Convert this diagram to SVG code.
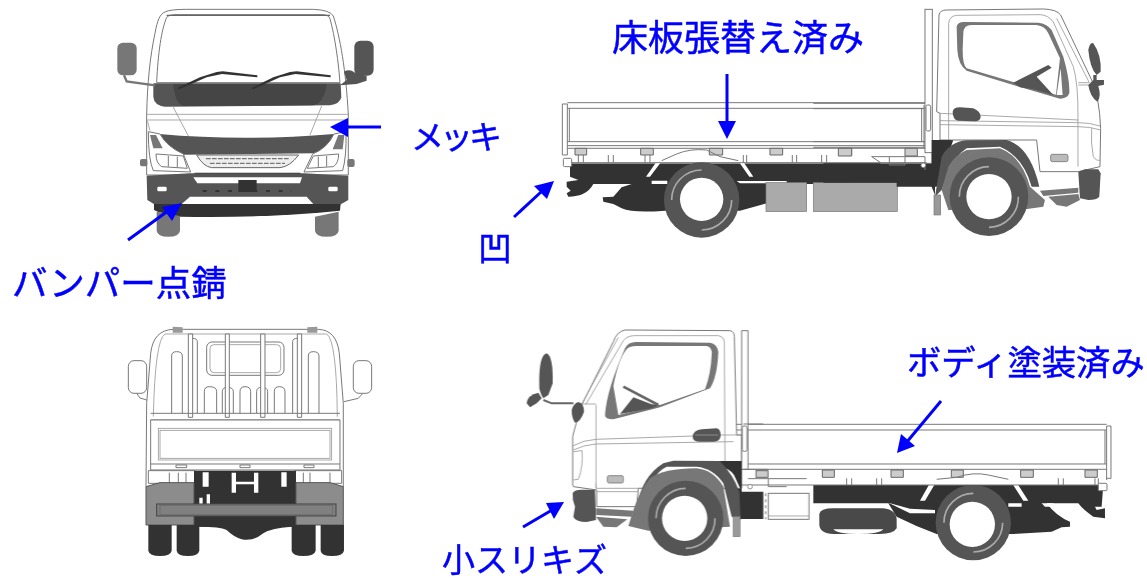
<svg xmlns="http://www.w3.org/2000/svg" width="1147" height="579" viewBox="0 0 1147 579">
<style>
.l{fill:none;stroke:#777;stroke-width:3}
.t{fill:none;stroke:#999;stroke-width:2.500}
.w{fill:#fff;stroke:#777;stroke-width:3}
.d{fill:#555}
.k{fill:#333}
.m{fill:#777}
.g{fill:#aaa;stroke:#777;stroke-width:2}
.n{fill:#fff}
.tire{fill:#555}
.ring{fill:none;stroke:#aaa;stroke-width:5}
.hg{fill:#ccc;stroke:#666;stroke-width:3}
.lbl{font-family:"Liberation Sans","Noto Sans CJK JP",sans-serif;fill:#00f;stroke:#00f;stroke-width:.5}
.al{stroke:#00f;stroke-width:3;fill:none}
.ah{fill:#00f}
</style>
<defs><filter id="b" x="-5%" y="-5%" width="110%" height="110%"><feGaussianBlur stdDeviation="0.5"/></filter></defs>
<rect width="1147" height="579" fill="#fff"/>

<!-- front view -->
<g id="truck-front" filter="url(#b)" transform="translate(100,0) scale(.3333)">
<path class="w" d="M140,345 C142,250 150,170 165,100 C172,60 180,42 195,36 Q210,28 260,28 L640,28 Q690,30 700,48 C720,110 738,210 745,345 L745,525 L140,525 Z"/>
<path class="w" d="M170,248 C174,160 184,90 200,52 Q204,46 220,44 L670,44 Q688,46 690,56 C705,110 716,190 720,248 Z"/>
<path fill="none" stroke="#666" stroke-width="4" d="M200,46 L690,46"/>
<path class="d" d="M160,250 L722,250 L724,292 Q720,312 690,316 L195,320 Q162,316 160,290 Z"/>
<path fill="#444" d="M220,252 L680,252 Q672,310 640,316 L250,318 Q225,310 220,252Z"/>
<path class="k" d="M232,264 L300,232 L350,216 L368,214 L472,226 L472,232 L366,222 L320,232 L238,268Z"/>
<path class="k" d="M455,264 L520,232 L570,216 L590,214 L692,226 L692,232 L586,222 L540,232 L460,268Z"/>
<rect x="52" y="128" width="58" height="98" rx="17" class="m"/>
<path d="M72,226 L80,244 L165,256" fill="none" stroke="#777" stroke-width="7"/>
<rect x="763" y="122" width="58" height="105" rx="18" class="d"/>
<path class="d" d="M732,215 Q748,205 765,218 L800,228 L800,242 L770,252 L720,256 L740,240Z"/>
<path class="t" d="M140,343 H745 M142,360 H745 M218,318 L265,408 M665,318 L630,405 M142,362 L150,392"/>
<path class="d" d="M178,402 Q430,425 702,402 Q690,445 640,460 L250,464 Q200,445 178,402Z"/>
<path class="w" d="M145,395 L180,402 Q200,440 250,462 L272,516 L160,512 Q145,480 145,395Z"/>
<path class="w" d="M738,395 L702,402 Q682,445 638,462 L612,516 L728,512 Q740,470 738,395Z"/>
<path class="m" d="M150,405 L168,405 L188,445 L160,445Z M733,405 L715,405 L698,448 L728,448Z"/>
<path class="w" d="M168,462 L250,468 L262,505 L185,500 Q168,490 168,462Z M716,462 L640,468 L622,505 L700,500 Q716,490 716,462Z"/>
<path class="l" d="M205,468 V500 M232,470 V502 M655,470 V502 M680,468 V500"/>
<path fill="#eee" stroke="#666" stroke-width="3" d="M290,465 L596,465 Q570,500 540,503 L335,503 Q310,500 290,465Z"/>
<path fill="none" stroke="#777" stroke-width="4" stroke-dasharray="14 4" d="M318,476 H570 M330,490 H555"/>
<rect x="120" y="477" width="22" height="22" rx="6" class="m"/><rect x="742" y="477" width="22" height="24" rx="6" class="m"/>
<path class="k" d="M285,518 L600,518 L612,532 L272,532Z"/>
<path class="d" d="M140,527 L270,520 L612,520 L745,527 L745,600 L720,614 L165,614 L142,600Z"/>
<path class="n" d="M280,532 L606,532 L600,550 L292,550Z"/>
<path class="n" d="M245,612 L270,590 L620,590 L640,612Z"/>
<rect x="415" y="540" width="55" height="36" class="k"/>
<path fill="none" stroke="#333" stroke-width="6" stroke-dasharray="12 26" d="M308,573 H575"/>
<rect x="172" y="560" width="28" height="14" rx="4" class="n"/><rect x="685" y="560" width="28" height="14" rx="4" class="n"/>
<path class="k" d="M162,612 L722,612 L720,632 Q500,655 240,650 Q180,640 162,630Z"/>
<path class="m" d="M170,635 L240,648 V692 Q238,710 205,710 Q172,710 170,692Z"/>
<path class="m" d="M645,650 L716,635 V692 Q714,710 680,710 Q647,710 645,692Z"/>
</g>

<!-- rear view -->
<g id="truck-rear" filter="url(#b)" transform="translate(110,310) scale(.3333)">
<rect x="55" y="152" width="55" height="98" rx="17" class="w"/>
<rect x="730" y="152" width="55" height="98" rx="17" class="w"/>
<path class="l" d="M80,250 L90,264 L110,270 M757,252 L745,265 L702,275"/>
<path class="w" d="M110,280 L122,130 Q130,60 190,58 L625,58 Q680,60 688,130 L700,280 L700,530 L108,530 Z"/>
<path class="t" d="M130,320 Q135,90 165,72 L650,72 Q680,90 682,320"/>
<path fill="#999" d="M188,50 L218,52 V68 H188Z M592,52 L622,50 V68 H592Z"/>
<rect x="290" y="96" width="232" height="100" rx="16" class="l"/>
<rect x="300" y="104" width="212" height="84" rx="12" class="t"/>
<path class="l" d="M185,310 V138 Q185,125 200,125 Q217,125 217,138 V310 M595,310 V138 Q595,125 610,125 Q627,125 627,138 V310 M283,310 V245 Q283,230 298,230 Q320,230 320,245 V310 M337,310 V245 Q337,232 352,232 Q370,232 370,245 V310 M390,310 V245 Q390,230 405,230 Q422,230 422,245 V310 M440,310 V245 Q440,232 455,232 Q473,232 473,245 V310 M493,310 V245 Q493,230 508,230 Q525,230 525,245 V310 M262,310 V95 Q262,85 247,85 M548,310 V95 Q548,85 562,85"/>
<path class="w" d="M235,72 H248 V322 H235Z M346,72 H358 V322 H346Z M452,72 H465 V322 H452Z M562,72 H575 V322 H562Z"/>
<path class="l" d="M122,310 H690 M122,330 H690"/>
<path class="w" d="M122,330 H690 V480 H122Z"/>
<rect x="145" y="355" width="520" height="95" class="t"/>
<rect x="150" y="361" width="510" height="84" class="t"/>
<path class="l" d="M122,462 H690 M198,465 H230 V473 H198Z M390,465 H420 V473 H390Z M582,465 H612 V473 H582Z"/>
<path fill="#fff" stroke="#777" stroke-width="3" d="M115,482 H255 V520 H115Z M555,482 H695 V520 H555Z M178,488 V518 M205,488 V518 M228,488 V518 M580,488 V518 M600,488 V518 M660,488 V518"/>
<path class="k" d="M252,482 H558 V650 H252Z"/>
<path class="n" d="M278,487 H296 V530 H278Z M514,487 H530 V530 H514Z M365,488 H378 V548 H365Z M432,488 H445 V548 H432Z M378,515 H432 V523 H378Z M268,563 H278 V582 H268Z M290,553 H300 V582 H290Z"/>
<path fill="#8c8c8c" stroke="#555" stroke-width="3" d="M108,530 L150,518 H252 V645 H108Z M700,530 L660,518 H558 V645 H700Z"/>
<rect x="140" y="582" width="538" height="36" fill="#808080" stroke="#444" stroke-width="3"/>
<rect x="150" y="586" width="518" height="28" fill="none" stroke="#666" stroke-width="2"/>
<path class="k" d="M115,645 H185 V722 Q182,738 150,738 Q118,738 115,722Z M200,645 H268 V722 Q265,738 234,738 Q202,738 200,722Z M545,645 H617 V722 Q614,738 580,738 Q548,738 545,722Z M632,645 H702 V722 Q699,738 666,738 Q634,738 632,722Z"/>
<path class="k" d="M268,645 H545 V650 Q480,655 460,670 Q430,695 395,688 Q370,680 350,660 Q330,650 268,650Z"/>
</g>

<!-- top side view -->
<g id="truck-side-top" filter="url(#b)">
<g transform="translate(550,0) scale(.3333)">
<path class="k" d="M60,490 H1160 V548 H900 L900,552 H650 L650,610 L570,632 L345,632 Q250,640 215,625 L190,612 L160,605 L158,592 L190,590 L215,562 L245,552 L130,552 Q110,590 55,590 L50,580 L62,572 L50,560 L50,545 L85,540 L60,530Z"/>
<path class="n" d="M305,542 H352 V552 H305Z M560,543 H710 V550 H570Z"/>
<path class="n" d="M288,530 L300,530 L345,470 L330,470Z M610,530 L598,530 L556,470 L570,470Z"/>
<path class="n" d="M52,308 H1128 V490 H60 V465 H40 L37,312Z"/>
<path class="l" d="M37,312 H52 V465 H37Z M52,308 H1128 M52,325 H1128 M58,325 V425 M52,425 H1128 M52,437 H1128 M52,445 H1128"/>
<path class="l" d="M60,488 H1130 M85,465 V488 M100,465 V488 M175,465 V488 M190,465 V488 M285,465 V488 M300,465 V488 M580,465 V488 M590,465 V488 M727,465 V488 M740,465 V488 M815,465 V488 M830,465 V488"/>
<rect x="40" y="475" width="25" height="25" rx="4" class="w"/>
<path class="hg" d="M75,445 H110 V465 H75Z M272,445 H310 V465 H272Z M478,445 H518 V465 H478Z M660,445 H698 V465 H660Z M868,445 H905 V465 H868Z"/>
<path class="l" d="M335,482 L380,462 Q420,445 470,450 L510,470 L565,482"/>
<rect x="648" y="548" width="122" height="87" class="g"/>
<rect x="790" y="548" width="252" height="87" class="g"/>
<circle cx="455" cy="600" r="113" class="tire"/>
<path class="ring" d="M365,600 A90,90 0 0 1 455,510 M545,600 A90,90 0 0 1 455,690"/>
<circle cx="455" cy="598" r="65" class="n"/>
</g>
<g transform="translate(840,0) scale(.3333)">
<path class="k" d="M275,420 H340 L290,560 H170 V548 H-50 V490 H120 L140,510 H275Z"/>
<path class="l" d="M-80,310 H255 M-80,326 H250 M-80,425 H255 M-80,442 H255 M245,326 V425 M252,315 V445"/>
<path class="l" d="M95,470 L125,490 H275 M148,470 V495 H195 V470 M95,470 H255 M255,470 V510"/>
<rect x="255" y="28" width="22" height="430" fill="#fff" stroke="#777" stroke-width="3"/>
<rect x="258" y="315" width="14" height="78" rx="5" fill="#fff" stroke="#777" stroke-width="3"/>
<circle cx="250" cy="496" r="7" fill="#fff" stroke="#777" stroke-width="2.500"/>
<path class="hg" d="M-5,445 H35 V468 H-5Z M195,445 H232 V468 H195Z"/>
<path class="w" d="M290,335 L297,45 Q300,30 320,30 L610,27 Q650,28 662,45 L755,240 Q778,290 782,385 L780,500 L715,515 L600,515 L590,420 H300 L300,340Z"/>
<path class="t" d="M326,420 V70 Q328,48 350,46 L600,44 Q625,45 640,66 L700,200 Q715,250 714,355 V500 M650,55 L748,248 H715 M715,255 H770"/>
<path class="t" d="M300,340 L715,360 M300,362 L715,368 Q750,368 780,378 M300,374 L715,380 Q750,380 782,390 M755,385 Q752,430 760,470 Q770,485 782,480"/>
<path class="m" d="M350,80 Q352,65 375,66 L595,68 Q620,70 635,90 L670,170 Q690,240 688,280 Q682,296 660,296 L520,255 L380,212 Q355,195 352,150Z"/>
<path class="n" d="M370,100 Q370,75 395,75 L590,75 Q615,78 625,100 L660,175 L648,284 L380,205 Q368,195 368,150Z"/>
<path class="d" d="M520,248 L625,195 L635,203 L590,230 L640,285 L580,268 L540,262Z"/>
<path class="n" d="M650,285 L662,205 L668,285Z"/>
<path class="d" d="M338,335 Q340,322 360,322 L400,325 Q422,335 422,350 Q422,364 400,364 L355,362 Q338,360 338,335Z"/>
<path class="d" d="M745,150 Q750,125 760,130 Q785,165 782,215 L770,225 Q750,205 745,150Z M760,225 H770 V240 H792 V254 L775,258 Q785,290 772,305 Q750,290 745,255 L760,240Z"/>
<rect x="632" y="463" width="52" height="22" rx="5" fill="#bbb" stroke="#777" stroke-width="2.500"/>
<path class="k" d="M275,420 H335 L300,470 L285,560 V585 L275,560Z"/>
<path class="d" d="M285,590 L305,470 Q330,425 380,421 L500,420 Q570,440 598,560 H575 Q550,470 480,440 L380,445 Q340,470 320,530 L305,570Z"/>
<path class="m" d="M305,570 L325,500 Q345,465 380,450 L480,445 Q545,470 570,560 L615,600 L610,620 L540,630 L325,630Z"/>
<path class="d" d="M715,515 L735,508 H775 L782,520 L778,590 Q770,600 745,600 L720,595Z"/>
<path class="m" d="M600,572 L715,563 V578 L610,588Z"/>
<path class="m" d="M625,590 L715,582 L720,600 L680,620 L650,615Z"/>
<rect x="282" y="585" width="20" height="60" fill="#999" stroke="#777" stroke-width="2"/>
<circle cx="447" cy="590" r="118" class="tire"/>
<path class="ring" d="M358,590 A90,90 0 0 1 447,500 M535,590 A90,90 0 0 1 447,682"/>
<circle cx="447" cy="590" r="68" class="n"/>
</g>
</g>

<!-- bottom side view -->
<g id="truck-side-bottom" filter="url(#b)">
<g transform="translate(800,340) scale(.3333)">
<path class="k" d="M40,435 H910 L905,500 H885 L890,510 L915,505 V535 L880,530 Q850,510 835,490 L740,490 Q770,530 810,545 L810,560 L785,562 L755,575 L640,582 L410,582 Q350,560 290,530 L265,490 H40Z"/>
<path class="n" d="M265,488 L330,506 L405,510 L405,520 L330,520 Z M625,490 H665 V500 H625Z M725,490 H760 L770,500 H735Z"/>
<path class="n" d="M360,482 L375,482 L412,420 L395,420Z M685,482 L670,482 L630,420 L645,420Z"/>
<path fill="#484848" d="M58,522 Q60,505 100,505 L250,505 Q290,510 290,540 V565 Q280,582 240,582 H100 Q60,580 58,555Z"/>
<path class="n" d="M100,568 H250 Q240,582 175,582 Q110,582 100,568Z"/>
<path class="n" d="M-200,252 H920 V435 H-200Z"/>
<path class="l" d="M-200,253 H920 M-200,270 H918 M-200,372 H920 M-200,388 H920 M-200,435 H895 M915,270 V372 M920,258 H933 V415 H920 M920,258 V420"/>
<path class="l" d="M140,415 V435 M155,415 V435 M230,415 V435 M245,415 V435 M775,415 V435 M790,415 V435 M885,415 V435 M895,415 V435"/>
<rect x="895" y="430" width="26" height="22" rx="3" class="w"/>
<path class="hg" d="M67,390 H103 V412 H67Z M273,390 H310 V412 H273Z M454,390 H490 V412 H454Z M662,390 H700 V412 H662Z M855,390 H892 V412 H855Z"/>
<path class="l" d="M410,418 L470,412 Q520,395 565,405 L625,418"/>
<circle cx="520" cy="548" r="113" class="tire"/>
<path class="ring" d="M432,548 A88,88 0 0 1 520,460 M608,548 A88,88 0 0 1 520,636"/>
<circle cx="517" cy="553" r="68" class="n"/>
</g>
<g transform="translate(510,320) scale(.3333)">
<path class="k" d="M660,430 H695 V515 H760 V597 H690 L675,590Z"/>
<rect x="775" y="520" width="122" height="78" fill="#fff" stroke="#777" stroke-width="3"/>
<path class="t" d="M775,588 H897"/>
<path fill="none" stroke="#aaa" stroke-width="5" stroke-dasharray="9 9" d="M767,520 V598"/>
<path class="d" d="M88,205 Q85,105 110,100 Q130,110 128,190 L115,225 L100,235 Q92,225 88,205Z"/>
<path class="d" d="M50,250 Q52,225 85,218 L95,235 L80,250 L60,262Z"/>
<path d="M100,240 L125,250 L190,250" fill="none" stroke="#666" stroke-width="6"/>
<path class="w" d="M188,495 L188,350 Q195,320 215,255 L310,65 Q320,35 345,30 L660,32 Q673,35 673,50 L680,345 L695,345 V505 H385 L380,560 L260,560 V510 L190,500Z"/>
<path class="t" d="M215,252 L325,52 M228,252 L340,62 Q350,48 372,47 L625,47 Q643,50 643,68 L645,430 M258,255 V505 M215,252 H258"/>
<path class="t" d="M188,378 Q220,360 258,358 L640,345 H695 M190,390 Q220,375 258,372 L670,365 M190,395 L216,392 Q220,440 205,478 L190,480 M258,490 V505 H400 M260,515 H385"/>
<path class="m" d="M285,285 Q290,210 345,85 Q355,65 380,66 L600,68 Q622,72 625,95 Q622,170 600,205 L450,262 L310,298 Q285,298 285,285Z"/>
<path class="n" d="M310,198 Q325,120 348,90 Q355,78 380,78 L590,78 Q608,82 605,105 Q603,160 585,208 L450,255 L325,285Z"/>
<path class="d" d="M330,282 L370,232 L425,253 L450,255 L425,265Z"/>
<path fill="none" stroke="#666" stroke-width="8" d="M340,200 L445,255"/>
<path class="d" d="M548,350 Q550,330 575,328 L620,325 Q632,328 632,345 Q632,365 610,365 H570 Q548,365 548,350Z"/>
<path class="t" d="M555,345 H625"/>
<path class="d" d="M185,270 Q190,250 205,246 Q222,250 222,275 Q212,305 195,308 Q185,295 185,270Z"/>
<rect x="292" y="467" width="48" height="22" rx="5" fill="#bbb" stroke="#777" stroke-width="2.500"/>
<path class="w" d="M695,32 H714 V448 H695Z"/>
<rect x="697" y="318" width="14" height="76" rx="5" fill="#fff" stroke="#777" stroke-width="3"/>
<circle cx="720" cy="500" r="7" fill="#fff" stroke="#777" stroke-width="2.500"/>
<path class="l" d="M700,312 H760 M700,448 H775 M714,476 H775 V500 L830,500 M775,476 H890"/>
<rect x="738" y="452" width="36" height="20" class="hg"/>
<path class="k" d="M620,423 L695,423 V515 L672,465 Q650,435 620,445Z"/>
<path class="d" d="M380,562 Q395,470 460,430 L490,422 L630,423 Q670,465 688,515 L692,600 L665,590 L640,490 Q610,445 560,440 L470,440 Q425,460 395,560Z"/>
<path class="m" d="M355,618 L372,565 Q390,510 420,475 Q460,445 560,445 Q610,450 640,500 L660,620 L415,632Z"/>
<path class="d" d="M188,520 Q190,510 215,509 H255 L258,600 L230,606 Q195,605 190,590 L195,560 Q186,540 188,520Z"/>
<path class="m" d="M258,565 L370,572 L365,590 L258,585Z"/>
<path class="m" d="M258,590 L352,598 L320,622 L280,620Z"/>
<circle cx="527" cy="595" r="113" class="tire"/>
<path class="ring" d="M438,595 A90,90 0 0 1 527,505 M615,595 A88,88 0 0 1 527,685"/>
<circle cx="524" cy="595" r="68" class="n"/>
<rect x="670" y="590" width="20" height="60" fill="#999" stroke="#777" stroke-width="2"/>
</g>
</g>

<!-- labels -->
<text class="lbl" x="612" y="51" font-size="36">床板張替え済み</text>
<text class="lbl" x="411" y="149" font-size="33" letter-spacing="-4">メッキ</text>
<text class="lbl" x="12" y="296" font-size="35.500">バンパー点錆</text>
<text class="lbl" x="478" y="261" font-size="34">凹</text>
<text class="lbl" x="907" y="375" font-size="34.300">ボディ塗装済み</text>
<text class="lbl" x="442" y="572" font-size="33">小スリキズ</text>

<!-- connectors -->
<g id="connectors">
<path class="al" d="M381,127 H345"/><path class="ah" d="M330,127 L348,118 V137Z"/>
<path class="al" d="M128,240 L172,208"/><path class="ah" d="M182,203 L162,207 L172,221Z"/>
<path class="al" d="M727,74 V122"/><path class="ah" d="M727,139 L718,121 H736Z"/>
<path class="al" d="M514,217 L541,192"/><path class="ah" d="M554,181 L534,186 L547,199Z"/>
<path class="al" d="M941,401 L906,443"/><path class="ah" d="M897,453 L901,434 L915,446Z"/>
<path class="al" d="M523,527 L552,510"/><path class="ah" d="M564,502 L546,503 L554,519Z"/>
</g>
</svg>
